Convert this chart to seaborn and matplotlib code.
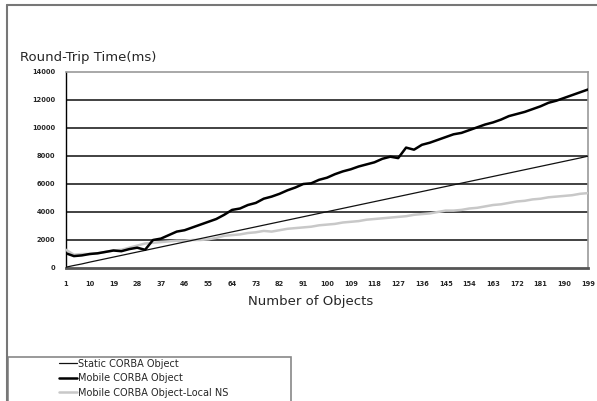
import matplotlib
matplotlib.use("Agg")
import matplotlib.pyplot as plt
from matplotlib.patches import Rectangle
from matplotlib.lines import Line2D
import seaborn as sns
import pandas as pd

objects = [1, 4, 7, 10, 13, 16, 19, 22, 25, 28, 31, 34, 37, 40, 43, 46, 49, 52, 55, 58,
           61, 64, 67, 70, 73, 76, 79, 82, 85, 88, 91, 94, 97, 100, 103, 106, 109, 112, 115, 118,
           121, 124, 127, 130, 133, 136, 139, 142, 145, 148, 151, 154, 157, 160, 163, 166, 169, 172, 175, 178,
           181, 184, 187, 190, 193, 196, 199]

static_corba = [60, 180, 290, 420, 540, 660, 780, 900, 1020, 1140, 1260, 1380, 1500, 1620, 1740, 1860, 1980, 2100, 2220, 2340,
                2460, 2580, 2700, 2820, 2940, 3060, 3180, 3300, 3420, 3540, 3660, 3780, 3900, 4020, 4140, 4260, 4380, 4500, 4620, 4740,
                4860, 4980, 5100, 5220, 5340, 5460, 5580, 5700, 5820, 5940, 6060, 6180, 6300, 6420, 6540, 6660, 6780, 6900, 7020, 7140,
                7260, 7380, 7500, 7620, 7740, 7860, 7990]

mobile_corba = [1050, 850, 900, 1000, 1050, 1150, 1250, 1200, 1350, 1450, 1300, 2000, 2100, 2350, 2600, 2700, 2900, 3100, 3300, 3500,
                3800, 4150, 4250, 4500, 4650, 4950, 5100, 5300, 5550, 5750, 6000, 6050, 6300, 6450, 6700, 6900, 7050, 7250, 7400, 7550,
                7800, 7950, 7850, 8600, 8450, 8800, 8950, 9150, 9350, 9550, 9650, 9850, 10050, 10250, 10400, 10600, 10850, 11000, 11150, 11350,
                11550, 11800, 11950, 12150, 12350, 12550, 12750]

mobile_local_ns = [1300, 950, 1000, 1000, 1050, 1150, 1250, 1300, 1450, 1600, 1750, 1800, 1850, 1900, 1950, 1950, 2000, 2000, 2050, 2150,
                   2300, 2350, 2400, 2500, 2550, 2650, 2600, 2700, 2800, 2850, 2900, 2950, 3050, 3100, 3150, 3250, 3300, 3350, 3450, 3500,
                   3550, 3600, 3650, 3700, 3800, 3850, 3900, 4000, 4100, 4100, 4150, 4250, 4300, 4400, 4500, 4550, 4650, 4750, 4800, 4900,
                   4950, 5050, 5100, 5150, 5200, 5300, 5350]

series_names = ["Static CORBA Object", "Mobile CORBA Object", "Mobile CORBA Object-Local NS"]
x_ticks = [1, 10, 19, 28, 37, 46, 55, 64, 73, 82, 91, 100, 109, 118, 127, 136, 145, 154, 163, 172, 181, 190, 199]
y_ticks = [0, 2000, 4000, 6000, 8000, 10000, 12000, 14000]

colors = {"Static CORBA Object": "#111111",
          "Mobile CORBA Object": "#000000",
          "Mobile CORBA Object-Local NS": "#c8c8c8"}
widths = {"Static CORBA Object": 0.9,
          "Mobile CORBA Object": 1.8,
          "Mobile CORBA Object-Local NS": 1.8}

df = pd.DataFrame({
    "objects": objects * 3,
    "time": static_corba + mobile_corba + mobile_local_ns,
    "series": [series_names[0]] * len(objects) + [series_names[1]] * len(objects) + [series_names[2]] * len(objects),
})

sns.set_style("white")
plt.rcParams["font.family"] = ["DejaVu Sans"]

W, H = 597, 401
fig = plt.figure(figsize=(W / 100, H / 100), dpi=100)
fig.patch.set_facecolor("white")

left, right, top, bottom = 66, 588, 72, 268
ax = fig.add_axes([left / W, 1 - bottom / H, (right - left) / W, (bottom - top) / H])

# gridlines
for yv in y_ticks[1:-1]:
    ax.axhline(yv, color="#333333", lw=1.3, zorder=1)

for name in [series_names[2], series_names[0], series_names[1]]:
    sub = df[df["series"] == name]
    sns.lineplot(data=sub, x="objects", y="time", ax=ax, color=colors[name],
                 lw=widths[name], legend=False, zorder=3)

ax.set_xlim(1, 199)
ax.set_ylim(0, 14000)
ax.set_xticks(x_ticks)
ax.set_xticklabels([str(v) for v in x_ticks], fontsize=4.8, fontweight="bold")
ax.set_yticks(y_ticks)
ax.set_yticklabels([str(v) for v in y_ticks], fontsize=4.8, fontweight="bold")
ax.tick_params(axis="both", direction="out", length=3, width=0.9, color="#222222", pad=4)
ax.tick_params(axis="x", pad=6)
ax.tick_params(axis="y", pad=5)
ax.set_xlabel("")
ax.set_ylabel("")

ax.spines["left"].set_color("#000000")
ax.spines["left"].set_linewidth(1.0)
ax.spines["bottom"].set_color("#555555")
ax.spines["bottom"].set_linewidth(2.0)
ax.spines["top"].set_color("#999999")
ax.spines["top"].set_linewidth(1.2)
ax.spines["right"].set_color("#999999")
ax.spines["right"].set_linewidth(1.2)

# titles
fig.text(20 / W, 1 - 57 / H, "Round-Trip Time(ms)", fontsize=9.5, ha="left", va="center")
fig.text(311 / W, 1 - 302 / H, "Number of Objects", fontsize=9.5, ha="center", va="center")

# outer chart border (left and top)
fig.add_artist(Line2D([7 / W, 7 / W], [0, 1 - 5 / H], color="#777777", lw=1.5, transform=fig.transFigure))
fig.add_artist(Line2D([7 / W, 1], [1 - 5 / H, 1 - 5 / H], color="#777777", lw=1.5, transform=fig.transFigure))

# legend box
fig.add_artist(Rectangle((8 / W, -20 / H), (291 - 8) / W, (20 + H - 357) / H,
                         transform=fig.transFigure, fill=False, edgecolor="#888888", lw=1.2))
handles = [Line2D([0], [0], color=colors[n], lw=widths[n]) for n in series_names]
fig.legend(handles, series_names, loc="upper left", bbox_to_anchor=(52 / W, 1 - 352 / H),
           frameon=False, fontsize=7, handlelength=1.9, handletextpad=0.1,
           labelspacing=0.45, borderpad=0.2)

fig.savefig("out.png", dpi=100)
